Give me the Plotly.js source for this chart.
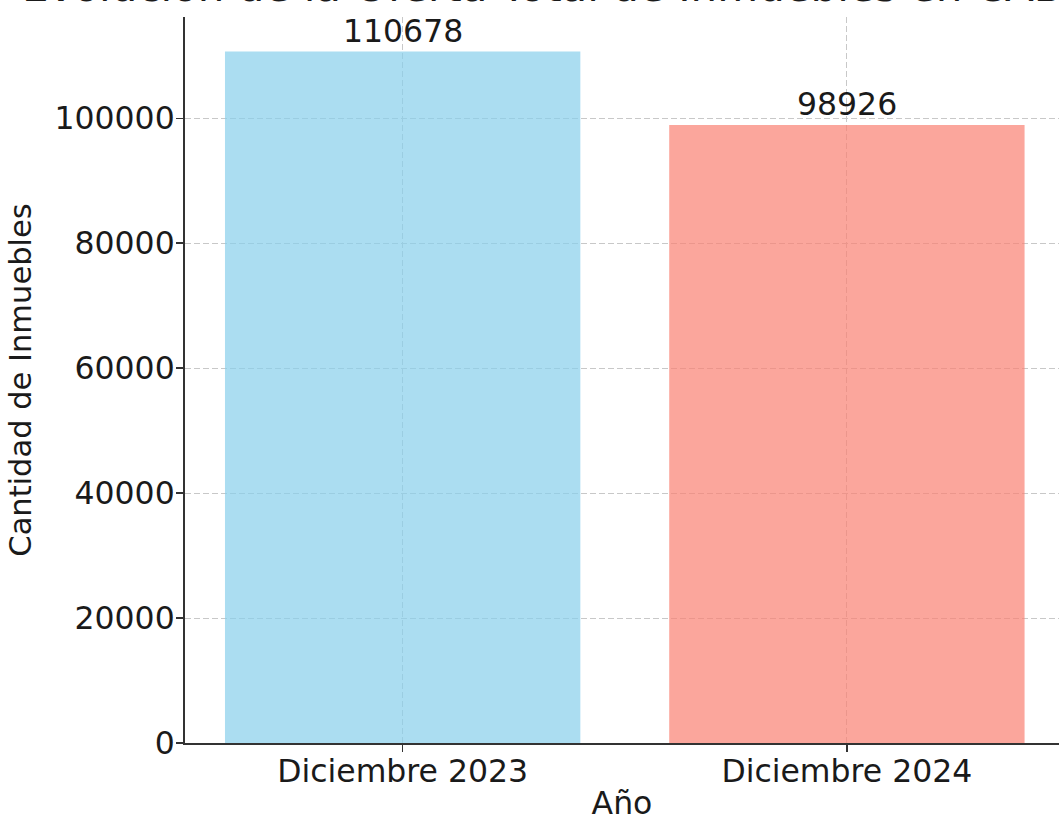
<!DOCTYPE html>
<html>
<head>
<meta charset="utf-8">
<script src="https://cdn.plot.ly/plotly-3.0.1.min.js"></script>
<style>
  html, body { margin: 0; padding: 0; background: #ffffff; }
  #chart { width: 1059px; height: 821px; }
</style>
</head>
<body>
<div id="chart"></div>
<script>
// ---- data ----
const categories = ["Diciembre 2023", "Diciembre 2024"];
const values = [110678, 98926];
const barColors = ["rgba(135,206,235,0.7)", "rgba(250,128,114,0.7)"];
const yTickValues = [0, 20000, 40000, 60000, 80000, 100000];
const titleText = "Evolución de la Oferta Total de Inmuebles en CABA";
const xTitle = "Año";
const yTitle = "Cantidad de Inmuebles";

const FONT = "DejaVu Sans, Verdana, sans-serif";
const TXT = "#1a1a1a";
const FS = 31.5;

const trace = {
  type: "bar",
  x: categories,
  y: values,
  marker: { color: barColors, line: { width: 0 } },
  hoverinfo: "x+y"
};

const annotations = categories.map((c, i) => ({
  x: c, y: values[i], xref: "x", yref: "y",
  text: String(values[i]),
  showarrow: false, yanchor: "bottom", xanchor: "center",
  yshift: 1,
  font: { family: FONT, size: FS, color: TXT }
}));

const layout = {
  width: 1059, height: 821,
  paper_bgcolor: "#ffffff", plot_bgcolor: "#ffffff",
  margin: { l: 185, r: 0, t: 17, b: 78, pad: 0 },
  bargap: 0.2,
  showlegend: false,
  font: { family: FONT, size: FS, color: TXT },
  title: {
    text: titleText,
    font: { family: FONT, size: 42, color: TXT },
    xref: "container", x: 22 / 1059, xanchor: "left",
    yref: "container", y: 1 - 1 / 821, yanchor: "bottom",
    pad: { t: 0, b: 0, l: 0, r: 0 }
  },
  xaxis: {
    type: "category",
    range: [-0.49, 1.4775],
    showline: true, linecolor: "#333333", linewidth: 2,
    ticks: "outside", ticklen: 7, tickwidth: 1.5, tickcolor: "#333333",
    ticklabelstandoff: -8,
    showgrid: true, gridcolor: "#c8c8c8", gridwidth: 1, griddash: "6px,3px",
    tickfont: { family: FONT, size: FS, color: TXT },
    title: { text: xTitle, font: { family: FONT, size: FS, color: TXT }, standoff: 7 },
    zeroline: false, fixedrange: true, automargin: false
  },
  yaxis: {
    range: [0, 116212],
    tickvals: yTickValues,
    ticktext: yTickValues.map(v => String(v)),
    showline: true, linecolor: "#333333", linewidth: 2,
    ticks: "outside", ticklen: 7, tickwidth: 1.5, tickcolor: "#333333",
    ticklabelstandoff: -5,
    showgrid: true, gridcolor: "#c8c8c8", gridwidth: 1, griddash: "6px,3px",
    tickfont: { family: FONT, size: FS, color: TXT },
    title: { text: yTitle, font: { family: FONT, size: 30.5, color: TXT }, standoff: 14 },
    zeroline: false, fixedrange: true, automargin: false
  },
  annotations: annotations
};

Plotly.newPlot("chart", [trace], layout, { displayModeBar: false, staticPlot: true });
</script>
</body>
</html>
